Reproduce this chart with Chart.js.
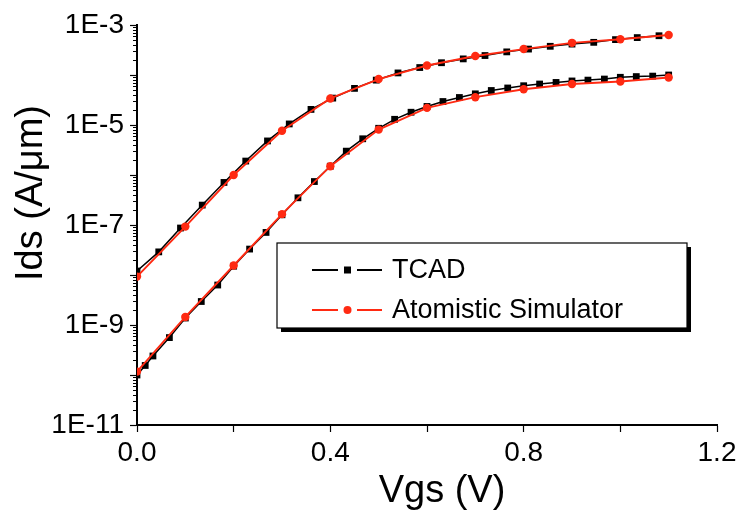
<!DOCTYPE html>
<html>
<head>
<meta charset="utf-8">
<script src="https://cdn.jsdelivr.net/npm/chart.js@4.4.1/dist/chart.umd.min.js"></script>
<style>
  html, body { margin: 0; padding: 0; background: #fff; }
  #wrap { width: 742px; height: 520px; }
</style>
</head>
<body>
<div id="wrap"><canvas id="ivChart" width="742" height="520"></canvas></div>
<script>
// TCAD, high Vds curve (step 0.045 V)
var tcadHighVgs = [0, 0.045, 0.09, 0.135, 0.18, 0.225, 0.27, 0.315, 0.36, 0.405, 0.45, 0.495, 0.54,
  0.585, 0.63, 0.675, 0.72, 0.765, 0.81, 0.855, 0.9, 0.945, 0.99, 1.035, 1.08];
var tcadHighIds = [1.2e-8, 2.9e-8, 8.7e-8, 2.5e-7, 7.1e-7, 1.9e-6, 4.8e-6, 1.05e-5, 2.05e-5, 3.45e-5, 5.4e-5, 7.9e-5, 1.1e-4,
  1.41e-4, 1.76e-4, 2.1e-4, 2.45e-4, 2.9e-4, 3.3e-4, 3.75e-4, 4.15e-4, 4.5e-4, 5.1e-4, 5.6e-4, 6.1e-4];

// TCAD, low Vds curve (step 1/30 V)
var tcadLowVgs = [0, 0.017, 0.033, 0.067, 0.1, 0.133, 0.167, 0.2, 0.233, 0.267, 0.3, 0.333, 0.367, 0.4,
  0.433, 0.467, 0.5, 0.533, 0.567, 0.6, 0.633, 0.667, 0.7, 0.733, 0.767, 0.8, 0.833, 0.867, 0.9,
  0.933, 0.967, 1.0, 1.033, 1.067, 1.1];
var tcadLowIds = [1.0e-10, 1.55e-10, 2.4e-10, 5.6e-10, 1.38e-9, 2.95e-9, 6.3e-9, 1.5e-8, 3.3e-8, 7.1e-8, 1.6e-7, 3.5e-7, 7.4e-7, 1.5e-6,
  3.0e-6, 5.3e-6, 8.6e-6, 1.3e-5, 1.8e-5, 2.35e-5, 2.95e-5, 3.55e-5, 4.2e-5, 4.9e-5, 5.5e-5, 6.1e-5, 6.6e-5, 7.1e-5, 7.6e-5,
  7.9e-5, 8.3e-5, 9.0e-5, 9.3e-5, 9.5e-5, 1.0e-4];

// Atomistic simulator (step 0.1 V)
var atomVgs = [0, 0.1, 0.2, 0.3, 0.4, 0.5, 0.6, 0.7, 0.8, 0.9, 1.0, 1.1];
var atomHighIds = [9.3e-9, 9.3e-8, 1.0e-6, 7.7e-6, 3.4e-5, 8.3e-5, 1.55e-4, 2.4e-4, 3.3e-4, 4.4e-4, 5.2e-4, 6.3e-4];
var atomLowIds = [1.17e-10, 1.45e-9, 1.55e-8, 1.65e-7, 1.5e-6, 8.1e-6, 2.2e-5, 3.6e-5, 5.2e-5, 6.6e-5, 7.4e-5, 8.9e-5];

var yDecades = [1e-11, 1e-10, 1e-9, 1e-8, 1e-7, 1e-6, 1e-5, 1e-4, 1e-3];
var yLabels = {'-3': '1E-3', '-5': '1E-5', '-7': '1E-7', '-9': '1E-9', '-11': '1E-11'};
var legendNames = ['TCAD', 'Atomistic Simulator'];

var FONT = "'Liberation Sans', Arial, sans-serif";
var BLACK = '#000000';
var RED = '#ff2a12';

function pts(xs, ys)
{
  var out = [];
  for (var i = 0; i < xs.length; i++) out.push({x: xs[i], y: ys[i]});
  return out;
}

function tcadSet(xs, ys)
{
  return {
    data: pts(xs, ys), borderColor: BLACK, backgroundColor: BLACK, borderWidth: 1.5,
    pointStyle: 'rect', pointRadius: 4.8, pointBorderWidth: 0, tension: 0, order: 2
  };
}
function atomSet(xs, ys)
{
  return {
    data: pts(xs, ys), borderColor: RED, backgroundColor: RED, borderWidth: 1.9,
    pointStyle: 'circle', pointRadius: 4.2, pointBorderWidth: 0, tension: 0, order: 1
  };
}

// minor log ticks, titles and the boxed legend
var decorPlugin = {
  id: 'decor',
  afterDraw: function(chart)
  {
    var ctx = chart.ctx;
    var ys = chart.scales.y;
    var left = chart.chartArea.left;
    ctx.save();
    ctx.strokeStyle = BLACK;
    ctx.lineWidth = 1;
    ctx.beginPath();
    for (var n = -11; n < -3; n++) {
      for (var k = 2; k < 10; k++) {
        var py = Math.round(ys.getPixelForValue(k * Math.pow(10, n))) + 0.5;
        ctx.moveTo(left - 4, py);
        ctx.lineTo(left, py);
      }
    }
    ctx.stroke();

    // axis titles
    ctx.fillStyle = BLACK;
    ctx.textAlign = 'center';
    ctx.textBaseline = 'middle';
    ctx.font = '38px ' + FONT;
    ctx.fillText('Vgs (V)', 442, 492);
    ctx.save();
    ctx.translate(32, 193);
    ctx.rotate(-Math.PI / 2);
    ctx.fillText('Ids (A/\u03bcm)', 0, 0);
    ctx.restore();

    // legend box with drop shadow
    var bx = 277, by = 243, bw = 410, bh = 85;
    ctx.fillStyle = BLACK;
    ctx.fillRect(bx + 4, by + 4, bw, bh);
    ctx.fillStyle = '#ffffff';
    ctx.fillRect(bx, by, bw, bh);
    ctx.strokeStyle = BLACK;
    ctx.lineWidth = 1.2;
    ctx.strokeRect(bx, by, bw, bh);

    var rows = [{y: 270, c: BLACK, s: 'rect'}, {y: 310, c: RED, s: 'circle'}];
    ctx.textAlign = 'left';
    ctx.font = '27px ' + FONT;
    for (var i = 0; i < rows.length; i++) {
      var r = rows[i];
      ctx.strokeStyle = r.c;
      ctx.fillStyle = r.c;
      ctx.lineWidth = 1.8;
      ctx.beginPath();
      ctx.moveTo(312, r.y); ctx.lineTo(338, r.y);
      ctx.moveTo(357, r.y); ctx.lineTo(382, r.y);
      ctx.stroke();
      if (r.s === 'rect') ctx.fillRect(344, r.y - 3.5, 7, 7);
      else { ctx.beginPath(); ctx.arc(347.5, r.y, 4, 0, Math.PI * 2); ctx.fill(); }
      ctx.fillStyle = BLACK;
      ctx.fillText(legendNames[i], 392, r.y + 1);
    }
    ctx.restore();
  }
};

const CHART = document.getElementById('ivChart');
var ivChart = new Chart(CHART,
{
  type: 'line',
  data: {
    datasets: [
      tcadSet(tcadHighVgs, tcadHighIds),
      tcadSet(tcadLowVgs, tcadLowIds),
      atomSet(atomVgs, atomHighIds),
      atomSet(atomVgs, atomLowIds)
    ]
  },
  options: {
    responsive: false,
    animation: false,
    layout: { padding: { top: 25, right: 25, left: 0, bottom: 0 } },
    plugins: { legend: { display: false }, tooltip: { enabled: false } },
    scales: {
      x: {
        type: 'linear', min: 0, max: 1.2,
        afterFit: function(s) { s.height = 95; },
        ticks: {
          stepSize: 0.2, color: BLACK, padding: 4,
          font: { family: FONT, size: 28 },
          callback: function(v) { return Math.round(v * 5) % 2 === 0 ? v.toFixed(1) : ''; }
        },
        grid: { drawOnChartArea: false, tickLength: 7, tickColor: BLACK, tickWidth: 1.2 },
        border: { color: BLACK, width: 2 }
      },
      y: {
        type: 'logarithmic', min: 1e-11, max: 1e-3,
        afterFit: function(s) { s.width = 137; },
        afterBuildTicks: function(s) { s.ticks = yDecades.map(function(v) { return {value: v}; }); },
        ticks: {
          color: BLACK, padding: 6,
          font: { family: FONT, size: 28 },
          callback: function(v) { var e = Math.round(Math.log10(v)); return yLabels[e] || ''; }
        },
        grid: { drawOnChartArea: false, tickLength: 7, tickColor: BLACK, tickWidth: 1.2 },
        border: { color: BLACK, width: 2 }
      }
    }
  },
  plugins: [decorPlugin]
});
</script>
</body>
</html>
